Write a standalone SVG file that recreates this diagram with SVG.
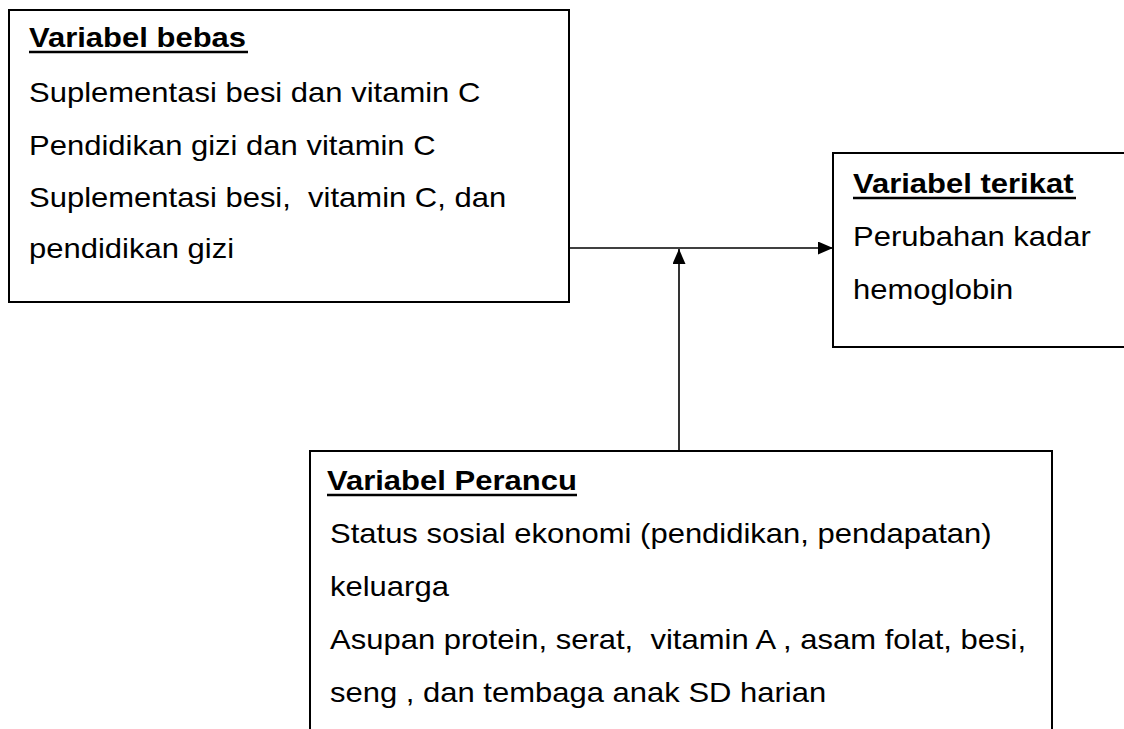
<svg xmlns="http://www.w3.org/2000/svg" width="1124" height="729" viewBox="0 0 1124 729">
<defs>
<style>
.box{fill:#fff;stroke:#000;stroke-width:2}
.t{font-family:"Liberation Sans",Arial,sans-serif;font-size:31px;fill:#000}
.h{font-weight:bold}
.ul{stroke:#000;stroke-width:2.5}
.c{stroke:#000;stroke-width:1.6;fill:none}
</style>
<marker id="ah" viewBox="0 0 10 10" refX="10" refY="5" markerWidth="9" markerHeight="8" markerUnits="userSpaceOnUse" orient="auto" preserveAspectRatio="none">
<path d="M0,0 L10,5 L0,10 Z" fill="#000"/>
</marker>
<marker id="ah2" viewBox="0 0 10 10" refX="10" refY="5" markerWidth="15" markerHeight="13" markerUnits="userSpaceOnUse" orient="auto" preserveAspectRatio="none">
<path d="M0,0 L10,5 L0,10 Z" fill="#000"/>
</marker>
</defs>
<rect width="1124" height="729" fill="#fff"/>
<g id="connectors">
<line class="c" x1="569" y1="248" x2="833" y2="248" marker-end="url(#ah2)"/>
<line class="c" x1="679" y1="451" x2="679" y2="249" marker-end="url(#ah2)"/>
</g>
<g id="bebas">
<rect class="box" x="9" y="10" width="560" height="292"/>
<text class="t h" transform="translate(29 47) scale(1 0.9)">Variabel bebas</text>
<line class="ul" x1="29" y1="52" x2="248" y2="52"/>
<text class="t" transform="translate(29 102) scale(1 0.9)">Suplementasi besi dan vitamin C</text>
<text class="t" transform="translate(29 154.5) scale(1 0.9)">Pendidikan gizi dan vitamin C</text>
<text class="t" transform="translate(29 207) scale(1 0.9)" xml:space="preserve">Suplementasi besi,  vitamin C, dan</text>
<text class="t" transform="translate(29 258) scale(1 0.9)">pendidikan gizi</text>
</g>
<g id="terikat">
<rect class="box" x="833" y="153" width="300" height="194"/>
<text class="t h" transform="translate(853 193) scale(1 0.9)">Variabel terikat</text>
<line class="ul" x1="853" y1="198" x2="1076" y2="198"/>
<text class="t" transform="translate(853 246) scale(1 0.9)">Perubahan kadar</text>
<text class="t" transform="translate(853 299) scale(1 0.9)">hemoglobin</text>
</g>
<g id="perancu">
<rect class="box" x="310" y="451" width="742" height="290"/>
<text class="t h" transform="translate(327 490) scale(1 0.9)">Variabel Perancu</text>
<line class="ul" x1="327" y1="495" x2="577" y2="495"/>
<text class="t" transform="translate(330 543) scale(1 0.9)">Status sosial ekonomi (pendidikan, pendapatan)</text>
<text class="t" transform="translate(330 596) scale(1 0.9)">keluarga</text>
<text class="t" transform="translate(330 649) scale(1 0.9)" xml:space="preserve">Asupan protein, serat,  vitamin A , asam folat, besi,</text>
<text class="t" transform="translate(330 702) scale(1 0.9)">seng , dan tembaga anak SD harian</text>
</g>
</svg>
